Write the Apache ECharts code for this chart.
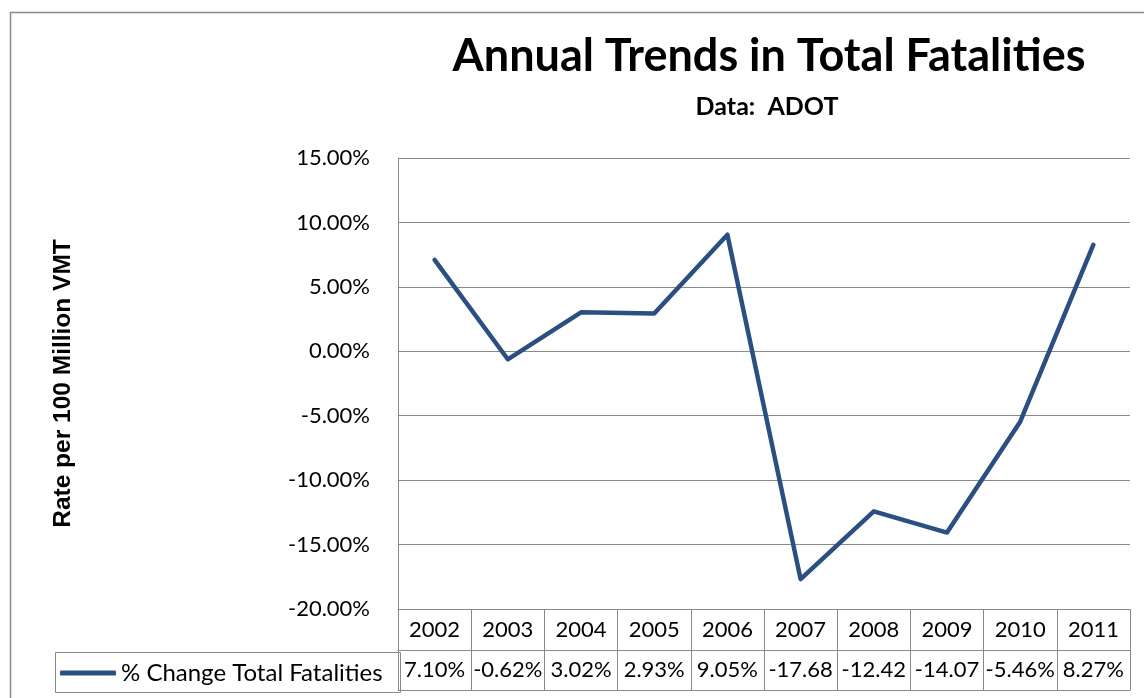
<!DOCTYPE html>
<html lang="en">
<head>
    <meta charset="utf-8">
    <title>Annual Trends in Total Fatalities</title>
    <script src="https://cdn.jsdelivr.net/npm/echarts@6/dist/echarts.min.js"></script>
    <style>
        html, body { margin: 0; padding: 0; background: #fff; }
        #main { width: 1144px; height: 698px; }
    </style>
</head>
<body>
<div id="main"></div>
<script type="text/javascript">
    // data
    var years = ['2002', '2003', '2004', '2005', '2006', '2007', '2008', '2009', '2010', '2011'];
    var pctChange = [7.10, -0.62, 3.02, 2.93, 9.05, -17.68, -12.42, -14.07, -5.46, 8.27];
    var seriesName = '% Change Total Fatalities';

    var font = 'Lato, "Open Sans", sans-serif';
    var gray = '#898989';
    var lineColor = '#2a4f80';

    var myChart = echarts.init(document.getElementById('main'));

    var option = {
        backgroundColor: '#fff',
        textStyle: { fontFamily: font, color: '#000' },
        title: [
            {
                text: 'Annual Trends in Total Fatalities',
                left: 764, top: 29, textAlign: 'center',
                textStyle: { fontFamily: font, fontSize: 45, fontWeight: 'bold', color: '#000' }
            },
            {
                text: 'Data:  ADOT',
                left: 762, top: 89, textAlign: 'center',
                textStyle: { fontFamily: font, fontSize: 25, fontWeight: 'bold', color: '#000' }
            }
        ],
        legend: {
            left: 55, top: 656,
            icon: 'roundRect',
            itemWidth: 56, itemHeight: 5, itemGap: 10,
            textStyle: { fontFamily: font, fontSize: 24, color: '#000' },
            data: [seriesName]
        },
        grid: { left: 398, right: 14, top: 158, bottom: 89 },
        xAxis: [
            {
                type: 'category',
                data: years,
                position: 'bottom',
                boundaryGap: true,
                axisLine: { show: true, onZero: false, lineStyle: { color: gray, width: 1 } },
                axisTick: { show: true, length: 81, interval: 0, lineStyle: { color: gray } },
                axisLabel: { margin: 10, fontSize: 22, color: '#000', fontFamily: font, interval: 0 }
            },
            {
                type: 'category',
                data: years,
                position: 'bottom',
                offset: 41,
                boundaryGap: true,
                axisLine: { show: true, onZero: false, lineStyle: { color: gray, width: 1 } },
                axisTick: { show: false },
                axisLabel: {
                    margin: 9, fontSize: 22, color: '#000', fontFamily: font, interval: 0,
                    width: 73, overflow: 'truncate', ellipsis: '',
                    formatter: function (v, i) { return pctChange[i].toFixed(2) + '%'; }
                }
            },
            {
                type: 'category',
                data: years,
                position: 'bottom',
                offset: 81,
                axisLine: { show: true, onZero: false, lineStyle: { color: gray, width: 1 } },
                axisTick: { show: false },
                axisLabel: { show: false }
            }
        ],
        yAxis: {
            type: 'value',
            min: -20, max: 15, interval: 5,
            name: 'Rate per 100 Million VMT',
            nameLocation: 'middle',
            nameGap: 322,
            nameTextStyle: { fontFamily: '"Liberation Sans", Arial, sans-serif', fontSize: 24.5, fontWeight: 'bold', color: '#000' },
            axisLine: { show: true, lineStyle: { color: gray, width: 1 } },
            axisTick: { show: false },
            splitLine: { lineStyle: { color: gray, width: 1 } },
            axisLabel: {
                margin: 28, fontSize: 22, color: '#000', fontFamily: font,
                formatter: function (v) { return v.toFixed(2) + '%'; }
            }
        },
        series: [
            {
                name: seriesName,
                type: 'line',
                data: pctChange,
                symbol: 'none',
                lineStyle: { color: lineColor, width: 4.5, join: 'round', cap: 'round' },
                itemStyle: { color: lineColor }
            }
        ],
        graphic: [
            {   // chart border
                type: 'rect', left: 8, top: 10, silent: true,
                shape: { width: 1160, height: 720 },
                style: { fill: 'none', stroke: gray, lineWidth: 1.5 }
            },
            {   // legend cell of the data table
                type: 'rect', left: 53, top: 650, silent: true,
                shape: { width: 345, height: 40 },
                style: { fill: 'none', stroke: gray, lineWidth: 1 }
            }
        ]
    };

    myChart.setOption(option);
</script>
</body>
</html>
